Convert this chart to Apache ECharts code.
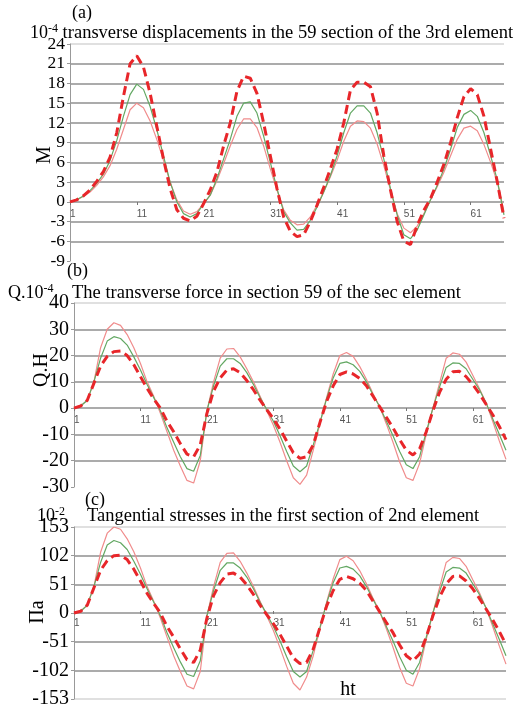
<!DOCTYPE html>
<html>
<head>
<meta charset="utf-8">
<script src="https://cdn.jsdelivr.net/npm/echarts@6/dist/echarts.min.js"></script>
<style>
  html, body { margin: 0; padding: 0; background: #fff; }
  #chart { width: 520px; height: 709px; }
</style>
</head>
<body>
<div id="chart"></div>
<script>
// sections along the element, 1..66
var sections = []
for (var i = 1; i <= 66; i++) sections.push(String(i))

// (a) transverse displacements, 10^-4 m
var dispDashed = [0, 0.3, 0.9, 1.8, 3.1, 4.6, 6.8, 10.5, 16, 21, 22.2, 20.5, 16.5, 11.5, 6.5, 2, -1.2, -2.5, -2.9, -2.2, -0.3, 1.8, 4.5, 8.5, 12, 16.8, 19.1, 18.8, 16.5, 12, 7, 2, -2.3, -4.5, -5.3, -5, -3, -0.5, 2.2, 5, 8, 12, 17, 18.2, 18.2, 17.5, 13.5, 7, 1.8, -3, -6, -6.5, -3.6, -1.3, 0.5, 3, 5.7, 9, 12.8, 16, 17.2, 16.3, 13, 8, 3, -2.5]
var dispGreen = [0, 0.3, 0.9, 1.7, 2.8, 4.2, 6.3, 9.3, 13, 16.3, 17.9, 17.1, 14.5, 11, 7, 3, 0, -1.8, -2.3, -1.8, -0.3, 1.0, 3.5, 6.5, 9.5, 13, 15, 15.2, 13.5, 10, 6, 2, -1.5, -3.2, -4.3, -4.2, -2.8, -0.8, 1.5, 4, 7, 10.5, 13.5, 14.6, 14.6, 13.5, 10.5, 6.5, 2, -2, -5, -5.6, -4.3, -2, 0.3, 2.5, 5, 8, 11.3, 13.3, 13.9, 13, 10.5, 7, 3.3, -2]
var dispPink = [0, 0.3, 0.8, 1.5, 2.5, 3.8, 5.5, 8, 11, 14, 15, 14.3, 12.3, 9.5, 6.3, 3, 0.3, -1.4, -1.9, -1.5, -0.3, 1.0, 3.2, 5.8, 8.5, 11, 12.6, 12.6, 11.3, 8.5, 5, 1.8, -1.2, -2.8, -3.5, -3.4, -2.3, -0.5, 1.5, 3.8, 6.3, 9.2, 11.5, 12.3, 12.2, 11.2, 8.8, 5.5, 1.8, -1.8, -4, -4.7, -3.7, -1.8, 0.3, 2.3, 4.5, 7, 9.5, 11.2, 11.5, 10.8, 8.7, 6, 3, -1.5]

// (b) transverse force, 10^-4 H
var forceDashed = [0, 0.8, 3, 9.5, 16, 19.7, 21.5, 21.7, 20, 16.5, 12, 7.5, 3.5, 0, -5, -9, -13.5, -17.5, -18.5, -14, -2, 6.5, 11.5, 14.5, 15, 13.5, 10.5, 7, 3, -0.6, -4, -8, -12.5, -17, -19.1, -18.5, -14, -5.5, 2.5, 8.5, 12.8, 13.8, 13, 11.3, 8.5, 4.5, 0.5, -3.5, -7.5, -12, -16, -17.8, -15.5, -9, -1, 6, 11, 13.8, 14, 12, 9, 5.5, 1.5, -2.5, -7, -12]
var forceGreen = [0, 0.8, 3, 10, 19, 25.5, 27.2, 26.5, 24, 19.5, 14.5, 9, 4, -1, -7.5, -13, -18.5, -23, -24, -18, -1, 8.5, 16, 18.8, 18.8, 17, 13.5, 9, 4, -0.5, -5, -10.5, -16.5, -22, -24.2, -22, -14, -5.5, 3.5, 11.5, 17, 17.6, 16.5, 14, 10, 5, 0.5, -5, -10.5, -16.5, -21.5, -23, -18.5, -9, 0, 8, 15.5, 17.2, 17, 15, 11, 7, 2, -4, -10, -16]
var forcePink = [0, 0.8, 3, 10, 23, 30, 32.5, 31.5, 28, 23, 17, 10, 4.5, -2, -9, -16, -22, -27.5, -28.5, -20, -1, 10, 19, 22.5, 22.7, 19.5, 15, 10, 4.5, -1, -6.5, -13, -20, -26.5, -29, -25.5, -16, -6, 4, 13, 20, 21.2, 19.7, 15.8, 11, 5.5, 0.5, -6, -13, -20.5, -26.5, -27.5, -21, -10, 0, 9.5, 19, 21, 20.5, 17.5, 12.5, 7.5, 2, -5, -12.5, -19.5]

// (c) tangential stresses, 10^-2 Pa
var stressDashed = [0, 3, 14, 45, 76, 93, 102, 103, 95, 78, 57, 35, 17, 0, -24, -43, -64, -83, -88, -66, -9, 31, 54, 69, 71, 64, 50, 33, 14, -3, -19, -38, -59, -80, -90, -88, -64, -26, 12, 40, 60, 65, 61, 53, 40, 21, 2, -17, -35, -57, -76, -85, -73, -43, -5, 28, 52, 65, 66, 57, 43, 26, 7, -12, -33, -56]
var stressGreen = [0, 3, 14, 47, 90, 121, 129, 125, 113, 92, 69, 43, 19, -5, -35, -62, -87, -109, -113, -85, -5, 40, 76, 89, 89, 80, 64, 43, 19, -2, -24, -50, -78, -104, -114, -104, -66, -26, 17, 54, 80, 83, 78, 66, 47, 24, 2, -24, -50, -78, -102, -109, -88, -43, 0, 38, 73, 81, 80, 71, 52, 33, 9, -19, -47, -76]
var stressPink = [0, 3, 14, 47, 108, 142, 153, 149, 132, 109, 80, 47, 21, -9, -43, -76, -104, -130, -135, -104, -5, 47, 90, 106, 107, 92, 71, 47, 21, -5, -31, -62, -95, -125, -137, -114, -76, -28, 19, 61, 95, 101, 93, 75, 52, 26, 2, -28, -61, -97, -125, -130, -99, -47, 0, 45, 90, 99, 97, 83, 59, 36, 9, -24, -59, -91]

var RED = '#e8262a'
var GREEN = '#63a863'
var PINK = '#f08c8c'
var GRID = '#8f8f8f'
var SERIF = 'Liberation Serif'

var chart = echarts.init(document.getElementById('chart'))

// the x axis sits on the zero line, so shift it up from the grid bottom
function xAxis(idx, shift) {
  return {
    type: 'category',
    gridIndex: idx,
    data: sections,
    boundaryGap: false,
    position: 'bottom',
    offset: -shift,
    axisLine: { show: false, onZero: false },
    axisTick: { show: true, interval: 9, length: 3, lineStyle: { color: '#777' } },
    axisLabel: {
      interval: 9,
      align: 'left',
      margin: 7,
      fontFamily: 'Liberation Sans',
      fontSize: 10,
      color: '#555'
    }
  }
}

function yAxis(idx, min, max, step, colors, size) {
  return {
    type: 'value',
    gridIndex: idx,
    min: min,
    max: max,
    interval: step,
    axisLine: { show: true, lineStyle: { color: '#999' } },
    axisTick: { show: true, length: 3, lineStyle: { color: '#999' } },
    axisLabel: {
      margin: 5,
      showMinLabel: true,
      showMaxLabel: true,
      hideOverlap: false,
      fontFamily: SERIF,
      fontSize: size,
      color: '#000'
    },
    splitLine: { show: true, lineStyle: { color: colors, width: 1.5 } }
  }
}

function splitColors(count, bottom) {
  var c = []
  for (var k = 0; k < count; k++) c.push(GRID)
  c[0] = bottom
  c[count - 1] = '#d6d6d6'
  return c
}

function series(idx, data, kind) {
  var s = {
    type: 'line',
    xAxisIndex: idx,
    yAxisIndex: idx,
    data: data,
    showSymbol: false,
    symbol: 'none'
  }
  if (kind === 'dash') {
    s.lineStyle = { color: RED, width: 3, type: [9, 5] }
  } else {
    s.lineStyle = { color: kind === 'green' ? GREEN : PINK, width: 1.2 }
  }
  return s
}

function label(x, y, text, size, extra) {
  var st = { text: text, x: x, y: y, fontFamily: SERIF, fontSize: size || 18, fill: '#000', verticalAlign: 'middle' }
  for (var k in extra) st[k] = extra[k]
  return { type: 'text', style: st }
}

function vlabel(x, y, text) {
  return { type: 'text', x: x, y: y, rotation: Math.PI / 2,
    style: { text: text, fontFamily: SERIF, fontSize: 20, fill: '#000', align: 'center', verticalAlign: 'middle' } }
}

var supRich = {
  n: { fontFamily: SERIF, fontSize: 18, color: '#000' },
  s: { fontFamily: SERIF, fontSize: 12, color: '#000', verticalAlign: 'top', padding: [0, 0, 9, 0] },
  t: { fontFamily: SERIF, fontSize: 18.5, color: '#000' }
}

chart.setOption({
  animation: false,
  grid: [
    { left: 70, right: 16, top: 44, height: 217 },
    { left: 74, right: 14, top: 303, height: 184 },
    { left: 74, right: 14, top: 527, height: 176 }
  ],
  xAxis: [xAxis(0, 59), xAxis(1, 79), xAxis(2, 88)],
  yAxis: [
    yAxis(0, -9, 24, 3, splitColors(12, 'rgba(0,0,0,0)'), 17.5),
    yAxis(1, -30, 40, 10, splitColors(8, 'rgba(0,0,0,0)'), 20),
    yAxis(2, -153, 153, 51, splitColors(7, '#d6d6d6'), 20)
  ],
  series: [
    series(0, dispPink, 'pink'), series(0, dispGreen, 'green'), series(0, dispDashed, 'dash'),
    series(1, forcePink, 'pink'), series(1, forceGreen, 'green'), series(1, forceDashed, 'dash'),
    series(2, stressPink, 'pink'), series(2, stressGreen, 'green'), series(2, stressDashed, 'dash')
  ],
  graphic: [
    label(72, 13, '(a)'),
    { type: 'text', style: { x: 30, y: 33, verticalAlign: 'middle',
      text: '{n|10}{s|-4}{t| transverse displacements in the 59 section of the 3rd element}', rich: supRich } },
    vlabel(45, 155, 'M'),

    label(67, 271, '(b)'),
    { type: 'text', style: { x: 8, y: 293, verticalAlign: 'middle',
      text: '{n|Q.10}{s|-4}', rich: supRich } },
    label(72, 293, 'The transverse force in section 59 of the sec element', 18.5),
    vlabel(42, 370, 'Q.H'),

    label(85, 500, '(c)'),
    { type: 'text', style: { x: 37, y: 516, verticalAlign: 'middle',
      text: '{n|10}{s|-2}', rich: supRich } },
    label(87, 516, 'Tangential stresses in the first section of 2nd element', 18.5),
    vlabel(38, 612, 'Πa'),
    label(348, 690, 'ht', 20, { align: 'center' })
  ]
})
</script>
</body>
</html>
